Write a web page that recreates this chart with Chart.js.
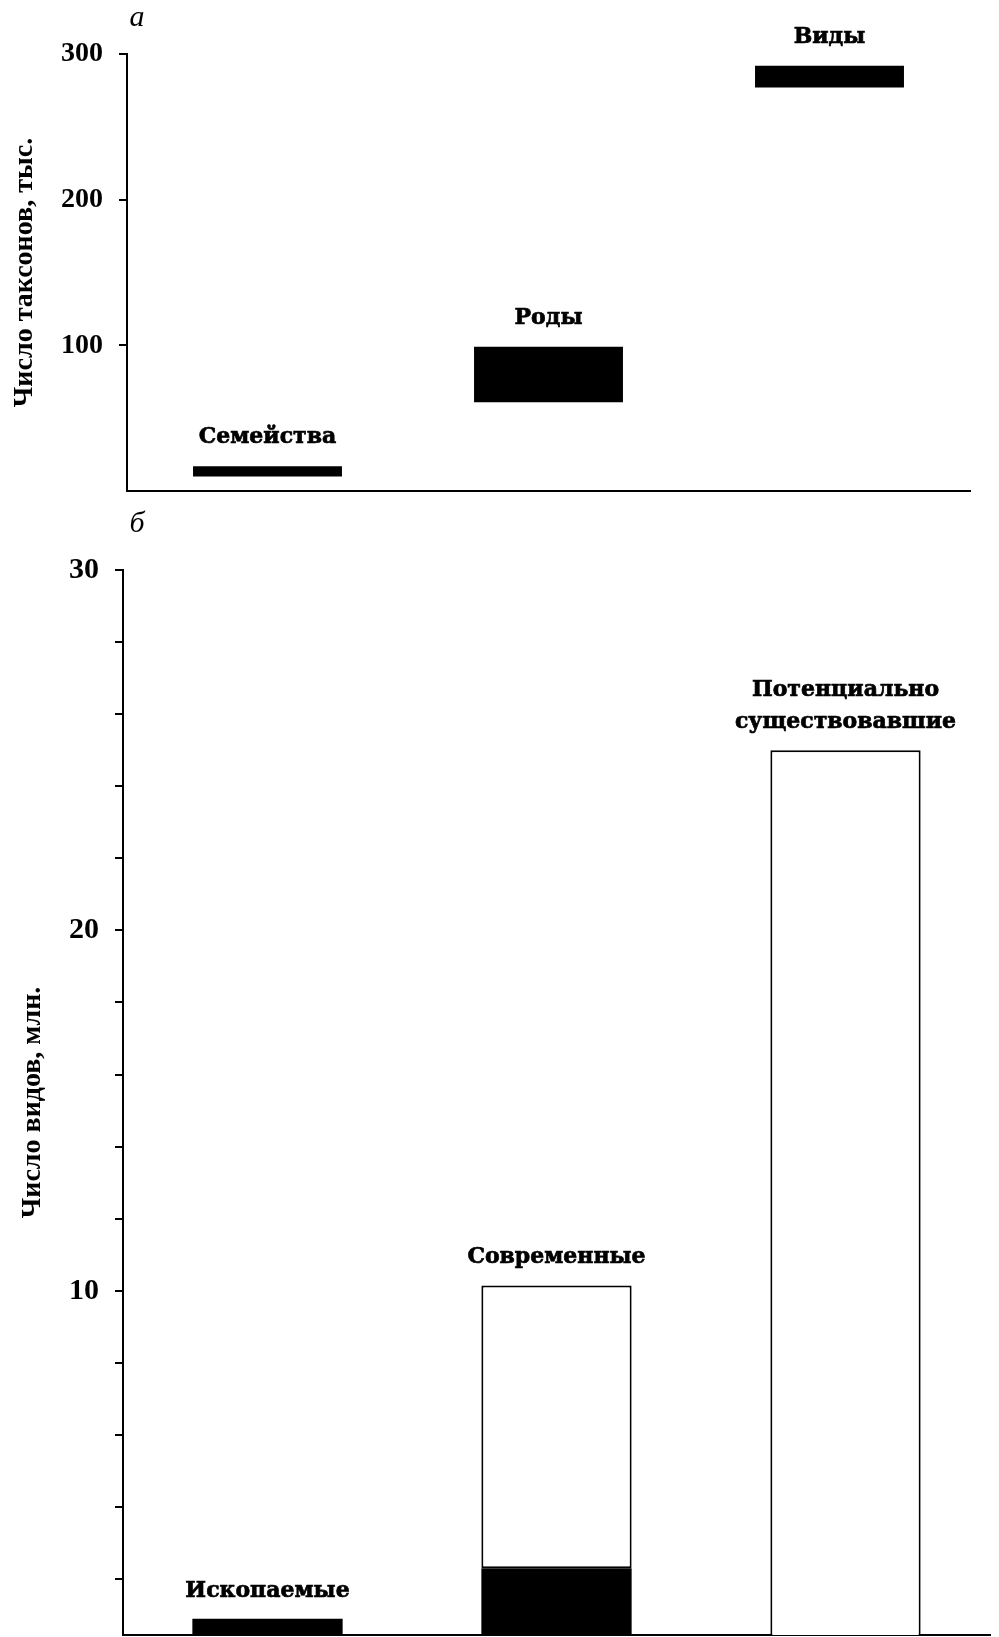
<!DOCTYPE html>
<html lang="ru">
<head>
<meta charset="utf-8">
<title>Число таксонов и видов</title>
<script src="https://cdn.jsdelivr.net/npm/chart.js@4/dist/chart.umd.min.js"></script>
<style>
  html, body { margin: 0; padding: 0; background: #fff; }
  #wrap { position: relative; width: 999px; height: 1637px; overflow: hidden; }
  canvas { position: absolute; left: 0; }
  #chartA { top: 0; }
  #chartB { top: 510px; }
</style>
</head>
<body>
<div id="wrap">
  <canvas id="chartA" width="999" height="510"></canvas>
  <canvas id="chartB" width="999" height="1127"></canvas>
</div>
<script>
// panel a: number of taxa, thousands (floating ranges)
const taxaNames = ['Семейства', 'Роды', 'Виды'];
const taxaRanges = [[10, 17], [61, 99], [277, 292]];
const taxaTicks = [100, 200, 300];

// panel b: number of species, millions
const speciesNames = [['Ископаемые'], ['Современные'], ['Потенциально', 'существовавшие']];
const fossilPart = [[0, 0.9], [0, 2.3], null];
const outlinedPart = [null, [2.3, 10.15], [0, 25]];
const speciesTicks = [2, 4, 6, 8, 10, 12, 14, 16, 18, 20, 22, 24, 26, 28, 30];
const speciesLabeled = [10, 20, 30];

const SERIF = '"Liberation Serif", "Times New Roman", serif';
const LABEL_FONT = 'bold 22px "DejaVu Serif", serif';

// text above each bar group
const barLabels = {
  id: 'barLabels',
  afterDatasetsDraw(chart, args, opts) {
    const ctx = chart.ctx;
    const metas = chart.getSortedVisibleDatasetMetas();
    ctx.save();
    ctx.fillStyle = '#000';
    ctx.strokeStyle = '#000';
    ctx.lineWidth = 0.7;
    ctx.font = opts.font;
    ctx.textAlign = 'center';
    ctx.textBaseline = 'alphabetic';
    opts.labels.forEach((lines, i) => {
      let top = Infinity, x = null;
      metas.forEach(m => {
        const raw = chart.data.datasets[m.index].data[i];
        const el = m.data[i];
        if (raw == null || !el) return;
        top = Math.min(top, el.y, el.base);
        x = el.x;
      });
      if (x === null) return;
      lines.forEach((t, k) => {
        const y = top - opts.gap - (lines.length - 1 - k) * opts.lineHeight;
        ctx.fillText(t, x, y);
        ctx.strokeText(t, x, y);
      });
    });
    ctx.restore();
  }
};

// italic panel letter
const panelLetter = {
  id: 'panelLetter',
  afterDraw(chart, args, opts) {
    const ctx = chart.ctx;
    const a = chart.chartArea;
    ctx.save();
    ctx.fillStyle = '#000';
    ctx.font = 'italic 30px ' + SERIF;
    ctx.textAlign = 'center';
    ctx.fillText(opts.text, a.left + opts.dx, a.top - opts.dy);
    ctx.restore();
  }
};

function yScale(min, max, ticks, labeled, fontSize, title, titlePad) {
  return {
    type: 'linear',
    min: min,
    max: max,
    afterBuildTicks: s => { s.ticks = ticks.map(v => ({ value: v })); },
    afterFit: s => {
      s.width = 125;
      s.paddingTop = 0;
      s.paddingBottom = 0;
    },
    border: { display: true, color: '#000', width: 2 },
    grid: { drawOnChartArea: false, drawTicks: true, tickLength: 8, color: '#000', lineWidth: 2 },
    ticks: {
      color: '#000',
      padding: 16,
      font: { family: SERIF, size: fontSize, weight: 'bold' },
      callback: v => (labeled.includes(v) ? String(v) : '')
    },
    title: {
      display: true,
      text: title,
      color: '#000',
      padding: { top: titlePad, bottom: 0 },
      font: { family: SERIF, size: 28, weight: 'bold' }
    }
  };
}

const xScale = {
  type: 'category',
  afterFit: s => { s.height = 0; },
  border: { display: true, color: '#000', width: 2 },
  grid: { display: true, drawOnChartArea: false, drawTicks: false },
  ticks: { display: false }
};

Chart.defaults.animation = false;

new Chart(document.getElementById('chartA'), {
  type: 'bar',
  data: {
    labels: taxaNames,
    datasets: [{
      label: 'Число таксонов',
      data: taxaRanges,
      backgroundColor: '#000',
      borderWidth: 0,
      barPercentage: 0.53,
      categoryPercentage: 1
    }]
  },
  options: {
    responsive: false,
    layout: { padding: { left: 2, right: 29, top: 54, bottom: 19 } },
    scales: {
      x: xScale,
      y: yScale(0, 300, taxaTicks, taxaTicks, 28, 'Число таксонов, тыс.', 6)
    },
    plugins: {
      legend: { display: false },
      tooltip: { enabled: false },
      barLabels: { labels: taxaNames.map(n => [n]), font: LABEL_FONT, gap: 23, lineHeight: 32 },
      panelLetter: { text: 'а', dx: 10, dy: 28 }
    }
  },
  plugins: [barLabels, panelLetter]
});

new Chart(document.getElementById('chartB'), {
  type: 'bar',
  data: {
    labels: speciesNames.map(n => n.join(' ')),
    datasets: [{
      label: 'Ископаемые',
      data: fossilPart,
      backgroundColor: '#000',
      borderWidth: 0,
      grouped: false,
      barPercentage: 0.52,
      categoryPercentage: 1
    }, {
      label: 'Всего',
      data: outlinedPart,
      backgroundColor: '#fff',
      borderColor: '#000',
      borderWidth: 2,
      borderSkipped: false,
      grouped: false,
      barPercentage: 0.52,
      categoryPercentage: 1
    }]
  },
  options: {
    responsive: false,
    layout: { padding: { left: -2, right: 9, top: 60, bottom: 2 } },
    scales: {
      x: xScale,
      y: yScale(0.45, 30, speciesTicks, speciesLabeled, 30, 'Число видов, млн.', 18)
    },
    plugins: {
      legend: { display: false },
      tooltip: { enabled: false },
      barLabels: { labels: speciesNames, font: LABEL_FONT, gap: 22, lineHeight: 32 },
      panelLetter: { text: 'б', dx: 14, dy: 38 }
    }
  },
  plugins: [barLabels, panelLetter]
});
</script>
</body>
</html>
